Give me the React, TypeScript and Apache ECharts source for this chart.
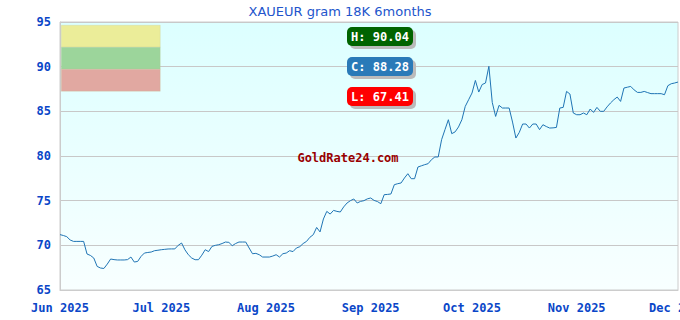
import React, { useEffect, useRef } from "react";
import * as echarts from "echarts";

const titleText = "XAUEUR gram 18K 6months";
const startDate = [2025, 5, 1]; // Jun 1 2025 (month is 0-based)
const endDate = [2025, 11, 1]; // Dec 1 2025
const yTicks = [65, 70, 75, 80, 85, 90, 95];
const dailyValues = [
  71.2, 71.1, 70.97, 70.6, 70.44, 70.44, 70.44, 70.44, 69.03, 68.87,
  68.58, 67.64, 67.46, 67.41, 67.9, 68.47, 68.4, 68.36, 68.36, 68.36,
  68.4, 68.69, 68.13, 68.2, 68.76, 69.14, 69.2, 69.25, 69.4, 69.45,
  69.51, 69.55, 69.59, 69.6, 69.6, 70.0, 70.26, 69.5, 68.95, 68.58,
  68.39, 68.39, 68.9, 69.51, 69.3, 69.88, 70.0, 70.07, 70.2, 70.37,
  70.33, 69.96, 70.2, 70.37, 70.37, 70.37, 69.7, 69.06, 69.1, 68.95,
  68.69, 68.69, 68.69, 68.8, 68.95, 68.69, 69.06, 69.14, 69.4, 69.3,
  69.7, 69.85, 70.2, 70.44, 70.9, 71.19, 72.0, 71.5, 72.95, 73.8,
  73.5, 73.91, 73.8, 73.73, 74.3, 74.74, 75.0, 75.19, 74.74, 74.92,
  75.0, 75.2, 75.3, 75.03, 74.9, 74.66, 75.67, 75.7, 75.75, 76.79,
  76.9, 76.98, 77.54, 78.02, 77.46, 77.46, 78.77, 78.9, 79.03, 79.14,
  79.59, 79.89, 79.89, 81.83, 82.95, 84.06, 82.5, 82.7, 83.25, 84.06,
  85.55, 86.3, 87.05, 88.46, 87.16, 88.0, 88.17, 90.04, 86.0, 84.43,
  85.67, 85.37, 85.37, 85.37, 83.8, 82.01, 82.64, 83.58, 83.58, 83.13,
  83.58, 83.58, 82.95, 83.5, 83.3, 83.13, 83.15, 83.2, 85.37, 85.44,
  87.23, 86.94, 84.81, 84.62, 84.62, 84.81, 84.62, 85.26, 84.88, 85.44,
  85.0, 85.0, 85.5, 85.93, 86.3, 86.6, 86.11, 87.61, 87.7, 87.79,
  87.4, 87.12, 87.12, 87.23, 87.1, 86.98, 86.98, 86.98, 86.98, 86.86,
  87.87, 88.09, 88.17, 88.28,
];
const statLabels = ["H: 90.04", "C: 88.28", "L: 67.41"];
const statColors = ["#006400", "#2a7ab8", "#ff0000"];
const bandColors = ["#ebed99", "#9cd59b", "#e1a8a1"];
const watermark = "GoldRate24.com";
const monthNames = ["Jan", "Feb", "Mar", "Apr", "May", "Jun", "Jul", "Aug", "Sep", "Oct", "Nov", "Dec"];

const MONO = "'DejaVu Sans Mono', monospace";
const AXIS_BLUE = "#0a46c8";

export default function App() {
  const ref = useRef<HTMLDivElement>(null);
  useEffect(() => {
    document.body.style.margin = "0";
    if (!ref.current) return;
    const chart = echarts.init(ref.current, null, { renderer: "svg" });
    const start = new Date(startDate[0], startDate[1], startDate[2]).getTime();
    const end = new Date(endDate[0], endDate[1], endDate[2]).getTime();
    const data = dailyValues.map((v, i) => [
      new Date(startDate[0], startDate[1], startDate[2] + i).getTime(),
      v,
    ]);

    const graphics: any[] = [];
    bandColors.forEach((c, i) => {
      graphics.push({
        type: "rect",
        left: 61,
        top: 25 + i * 22,
        shape: { width: 99, height: 22 },
        style: { fill: c, stroke: "rgba(200,200,150,0.5)", lineWidth: 0.5 },
        z: 10,
      });
    });
    statLabels.forEach((t, i) => {
      const top = 27 + i * 30;
      graphics.push({
        type: "rect",
        left: 350,
        top: top + 3,
        shape: { width: 66, height: 19, r: 5 },
        style: { fill: "#bbbbbb" },
        z: 10,
      });
      graphics.push({
        type: "rect",
        left: 347,
        top: top,
        shape: { width: 66, height: 19, r: 5 },
        style: { fill: statColors[i] },
        z: 11,
      });
      graphics.push({
        type: "text",
        x: 380,
        y: top + 10,
        style: {
          text: t,
          fill: "#ffffff",
          font: `bold 12px ${MONO}`,
          align: "center",
          verticalAlign: "middle",
        },
        z: 12,
      });
    });
    graphics.push({
      type: "text",
      x: 348,
      y: 158,
      style: {
        text: watermark,
        fill: "#990000",
        font: `bold 12px ${MONO}`,
        align: "center",
        verticalAlign: "middle",
      },
      z: 12,
    });

    chart.setOption({
      animation: false,
      title: {
        text: titleText,
        left: "center",
        top: 0,
        textStyle: {
          color: "#2255cc",
          fontFamily: "'DejaVu Sans', sans-serif",
          fontSize: 13,
          fontWeight: "normal",
        },
      },
      grid: {
        left: 60,
        right: 2,
        top: 22,
        bottom: 30,
        containLabel: false,
        outerBoundsMode: "none",
        show: true,
        borderColor: "#cccccc",
        borderWidth: 1,
        backgroundColor: new echarts.graphic.LinearGradient(0, 0, 0, 1, [
          { offset: 0, color: "#dcffff" },
          { offset: 1, color: "#f8ffff" },
        ]),
      },
      xAxis: {
        type: "time",
        min: start,
        max: end,
        splitNumber: 6,
        axisLine: { show: true, lineStyle: { color: "#cccccc" } },
        axisTick: { show: false },
        splitLine: { show: false },
        axisLabel: {
          color: AXIS_BLUE,
          fontFamily: MONO,
          fontWeight: "bold",
          fontSize: 12,
          margin: 12,
          showMinLabel: true,
          showMaxLabel: true,
          hideOverlap: false,
          formatter: (val: number) => {
            const d = new Date(val);
            return `${monthNames[d.getMonth()]} ${d.getFullYear()}`;
          },
        },
      },
      yAxis: {
        type: "value",
        min: yTicks[0],
        max: yTicks[yTicks.length - 1],
        interval: 5,
        axisLine: { show: true, lineStyle: { color: "#cccccc" } },
        axisTick: { show: false },
        splitLine: { show: true, lineStyle: { color: "#c8c8c8", width: 1 } },
        axisLabel: {
          color: AXIS_BLUE,
          fontFamily: MONO,
          fontWeight: "bold",
          fontSize: 12,
          margin: 9,
        },
      },
      series: [
        {
          type: "line",
          data,
          showSymbol: false,
          symbol: "none",
          lineStyle: { color: "#1f74b4", width: 1 },
          z: 5,
        },
      ],
      graphic: graphics,
    });
    return () => chart.dispose();
  }, []);
  return <div ref={ref} style={{ width: 680, height: 320 }} />;
}
